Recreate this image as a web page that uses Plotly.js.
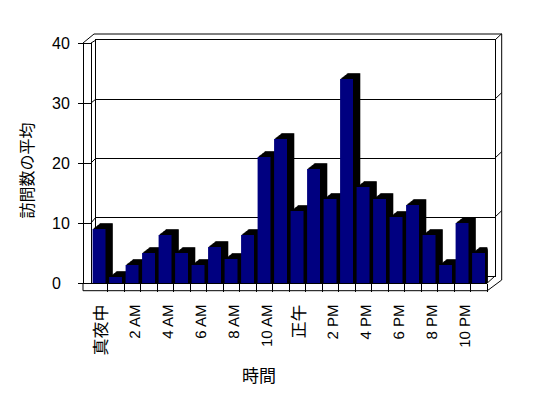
<!DOCTYPE html>
<html><head><meta charset="utf-8">
<script src="https://cdn.plot.ly/plotly-3.0.1.min.js"></script>
<style>html,body{margin:0;padding:0;background:#fff;}</style>
</head><body><div id="chart" style="width:548px;height:398px"></div>
<script>
// ---- data ----
const hours = [0,1,2,3,4,5,6,7,8,9,10,11,12,13,14,15,16,17,18,19,20,21,22,23];
const visits = [9,1,3,5,8,5,3,6,4,8,21,24,12,19,14,34,16,14,11,13,8,3,10,5];
const tickHours = [0,2,4,6,8,10,12,14,16,18,20,22];
const tickLabels = ['真夜中','2 AM','4 AM','6 AM','8 AM','10 AM','正午','2 PM','4 PM','6 PM','8 PM','10 PM'];
const yTicks = [0,10,20,30,40];
const yTickLabels = ['0\u2007','10','20','30','40'];
const xTitle = '時間';
const yTitle = '訪問数の平均';

// ---- geometry (pixels) ----
const W=548,H=398;
const px=v=>v/W, py=v=>1-v/H;
const FX0=91.3, FX1=487.3, FY0=283, FY1=43;   // front plane
const BX0=96, BX1=495, BY0=276, BY1=40;       // back wall inner face
const WALL_X=83, FLOOR_Y=290.7, OUT_X=501.7, OUT_Y=34;
const YMAX=40;
const ux=(FX1-FX0)/24, uy=(FY0-FY1)/YMAX;
const faceOff=1.3, faceW=12.9, depthX=7.3, depthY=5.7, steps=10;
const FONT='Liberation Sans, Arial, Noto Sans CJK JP, sans-serif';

const traces=[];
traces.push({type:'scatter',x:[],y:[],xaxis:'x',yaxis:'y',hoverinfo:'skip',showlegend:false});
traces.push({type:'scatter',x:[],y:[],xaxis:'x2',yaxis:'y3',hoverinfo:'skip',showlegend:false});
for(let j=steps;j>=1;j--){
  const ox=depthX*j/steps, oy=depthY*j/steps;
  traces.push({type:'bar',x:hours,y:visits.map(v=>v+oy/uy),xaxis:'x2',yaxis:'y2',
    width:faceW/ux, offset:-0.5+(faceOff+ox)/ux,
    marker:{color:'#000000',line:{width:0}},hoverinfo:'skip',showlegend:false});
}
traces.push({type:'bar',x:hours,y:visits,xaxis:'x2',yaxis:'y2',
  width:faceW/ux, offset:-0.5+faceOff/ux,
  marker:{color:'#000080',line:{width:0}},showlegend:false});

// ---- decoration lines (walls / floor) ----
const shapes=[];
const L=(x0,y0,x1,y1)=>shapes.push({type:'line',xref:'paper',yref:'paper',
  x0:px(x0),y0:py(y0),x1:px(x1),y1:py(y1),line:{color:'#000',width:1}});
const yf=t=>FY0-(FY0-FY1)*t/YMAX, yb=t=>BY0-(BY0-BY1)*t/YMAX;
L(WALL_X,FLOOR_Y,FX1,FLOOR_Y);
L(WALL_X,FY0,WALL_X,FLOOR_Y);
L(WALL_X,FY1,94,OUT_Y);
L(94,OUT_Y,OUT_X,OUT_Y);
L(OUT_X,OUT_Y,OUT_X,280);
L(FX1,FLOOR_Y,OUT_X,280);
L(FX1,FY0,BX1,BY0);
yTicks.forEach(t=>{
  if(t>0){ L(91,yf(t),BX0,yb(t)); L(BX1,yb(t),OUT_X,yb(t)-6.3); }
});

const tickText=tickLabels.map(s=>/[^\x00-\x7F]/.test(s)?'<span style="font-size:17px">'+s+'</span>':s);

const layout={
  width:W,height:H,autosize:false,margin:{l:0,r:0,t:0,b:0,pad:0},
  paper_bgcolor:'#fff',plot_bgcolor:'rgba(0,0,0,0)',showlegend:false,barmode:'overlay',
  font:{family:FONT,color:'#000',size:15},
  xaxis:{domain:[px(BX0),px(BX1)],range:[0,1],showline:true,mirror:true,linecolor:'#000',linewidth:1,
    showgrid:false,zeroline:false,ticks:'',showticklabels:false,fixedrange:true},
  yaxis:{domain:[py(BY0),py(BY1)],range:[0,YMAX],showline:true,mirror:true,linecolor:'#000',linewidth:1,
    showgrid:true,gridcolor:'#000',gridwidth:1,tickvals:yTicks,zeroline:false,ticks:'',showticklabels:false,fixedrange:true},
  xaxis2:{domain:[px(FX0),px(FX1)],range:[-0.5,23.5],anchor:'y2',showline:true,linecolor:'#000',linewidth:1,
    showgrid:false,zeroline:false,ticks:'',tickmode:'array',tickvals:tickHours,ticktext:tickText,tickangle:-89.9,
    tickfont:{family:FONT,size:15,color:'#000'},ticklabelstandoff:10,
    minor:{tickmode:'array',tickvals:hours.map(h=>h+0.5),ticks:'outside',ticklen:8,tickcolor:'#000',tickwidth:1,showgrid:false},
    fixedrange:true},
  yaxis2:{domain:[py(FY0),py(FY1)],range:[0,YMAX],anchor:'free',position:px(WALL_X),showline:true,linecolor:'#000',linewidth:1,
    showgrid:false,zeroline:false,ticks:'outside',ticklen:5,tickcolor:'#000',tickmode:'array',tickvals:yTicks,ticktext:yTickLabels,
    tickfont:{family:FONT,size:16,color:'#000'},ticklabelstandoff:5,fixedrange:true},
  yaxis3:{overlaying:'y2',range:[0,YMAX],anchor:'free',position:px(91),side:'left',showline:true,linecolor:'#000',linewidth:1,
    showgrid:false,zeroline:false,ticks:'outside',ticklen:8,tickcolor:'#000',tickmode:'array',tickvals:yTicks,showticklabels:false,fixedrange:true},
  shapes:shapes,
  annotations:[
    {text:xTitle,xref:'paper',yref:'paper',x:px(259),y:py(376),showarrow:false,xanchor:'center',yanchor:'middle',
      font:{family:FONT,size:17,color:'#000'}},
    {text:yTitle,xref:'paper',yref:'paper',x:px(27.5),y:py(171),showarrow:false,textangle:-90,xanchor:'center',yanchor:'middle',
      font:{family:FONT,size:16,color:'#000'}}
  ]
};
Plotly.newPlot('chart',traces,layout,{displayModeBar:false,staticPlot:true});
</script></body></html>
